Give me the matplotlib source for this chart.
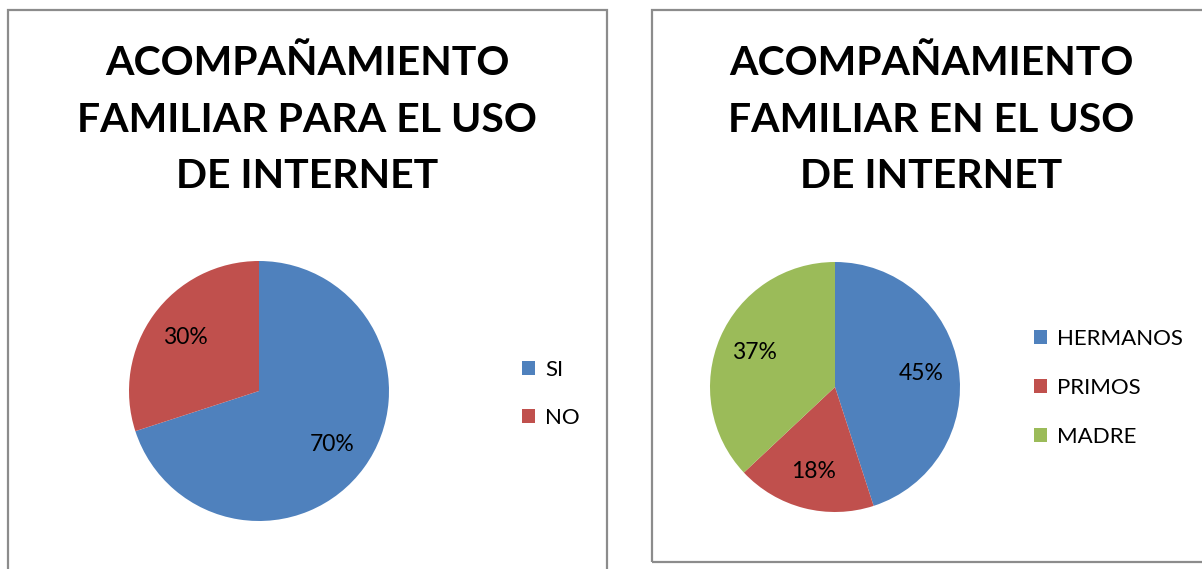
import matplotlib
matplotlib.use("Agg")
import matplotlib.pyplot as plt
from matplotlib.patches import Rectangle

# Data
left_title = "ACOMPAÑAMIENTO\nFAMILIAR PARA EL USO\nDE INTERNET"
left_labels = ["SI", "NO"]
left_values = [70, 30]

right_title = "ACOMPAÑAMIENTO\nFAMILIAR EN EL USO\nDE INTERNET"
right_labels = ["HERMANOS", "PRIMOS", "MADRE"]
right_values = [45, 18, 37]

colors_left = ["#4F81BD", "#C0504D"]
colors_right = ["#4F81BD", "#C0504D", "#9BBB59"]

W, H = 1202, 569
plt.rcParams['font.family'] = ['Lato', 'DejaVu Sans']
fig = plt.figure(figsize=(W / 100, H / 100), dpi=100)
fig.patch.set_facecolor("white")

def px_axes(cx, cy, r):
    return fig.add_axes([(cx - r) / W, (H - cy - r) / H, 2 * r / W, 2 * r / H])

# Panel borders
for (x0, y0, x1, y1) in [(8, 10, 607, 580), (652, 10, 1215, 562)]:
    fig.add_artist(Rectangle((x0 / W, (H - y1) / H), (x1 - x0) / W, (y1 - y0) / H,
                             transform=fig.transFigure, fill=False,
                             edgecolor="#8c8c8c", linewidth=1.6))

def draw(cx, cy, r, values, labels, colors, title, tx, leg_x, leg_y, ls):
    ax = px_axes(cx, cy, r)
    wedges, texts, autotexts = ax.pie(values, colors=colors, startangle=90, counterclock=False,
                                      autopct='%1.0f%%', pctdistance=0.7, radius=1.0,
                                      wedgeprops=dict(linewidth=0),
                                      textprops=dict(fontsize=16.5, color="black"))
    ax.set_xlim(-1, 1)
    ax.set_ylim(-1, 1)
    ax.set_aspect('equal')
    ax.axis('off')
    fig.text(tx / W, 1 - 120 / H, title, ha='center', va='center', fontsize=29.5,
             fontweight='bold', linespacing=1.65)
    fig.legend(wedges, labels, loc='center left', bbox_to_anchor=(leg_x / W, 1 - leg_y / H),
               frameon=False, fontsize=16, handlelength=0.6, handleheight=0.6,
               handletextpad=0.45, labelspacing=ls, borderpad=0, borderaxespad=0)

draw(259, 391, 130, left_values, left_labels, colors_left, left_title, 307, 522, 394, 1.25)
draw(835, 387, 125, right_values, right_labels, colors_right, right_title, 931, 1034, 388, 1.3)

fig.savefig("out.png", dpi=100, facecolor="white")
